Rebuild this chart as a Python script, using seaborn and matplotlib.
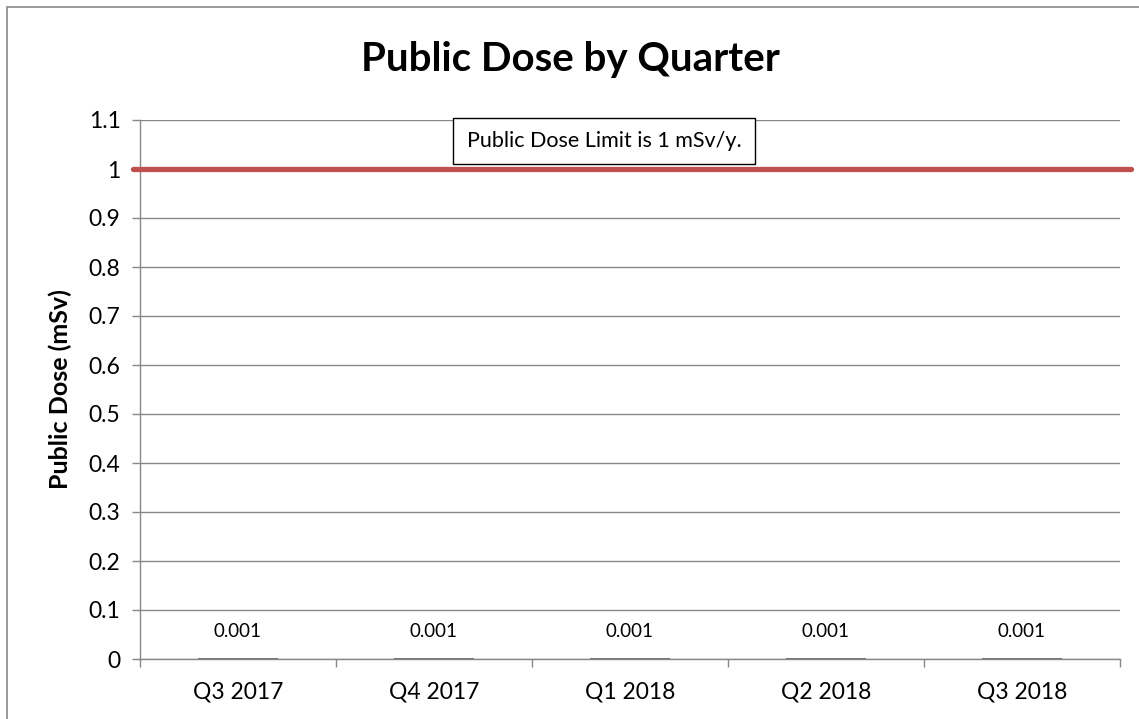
import matplotlib
matplotlib.use("Agg")
import matplotlib.pyplot as plt
import matplotlib.transforms as mtransforms
import seaborn as sns
import pandas as pd
from matplotlib.patches import Rectangle

quarters = ["Q3 2017", "Q4 2017", "Q1 2018", "Q2 2018", "Q3 2018"]
dose = [0.001, 0.001, 0.001, 0.001, 0.001]
limit = 1.0
yticks = [0, 0.1, 0.2, 0.3, 0.4, 0.5, 0.6, 0.7, 0.8, 0.9, 1, 1.1]
ytick_labels = ["0", "0.1", "0.2", "0.3", "0.4", "0.5", "0.6", "0.7", "0.8", "0.9", "1", "1.1"]

sns.set_theme(style="white")
plt.rcParams["font.family"] = ["Lato", "DejaVu Sans"]
plt.rcParams["text.color"] = "black"
plt.rcParams["axes.labelcolor"] = "black"

df = pd.DataFrame({"Quarter": quarters, "Dose": dose})

fig = plt.figure(figsize=(11.39, 7.19), dpi=100)
ax = fig.add_axes([140/1139, 1-659/719, 980/1139, 539/719])

sns.barplot(data=df, x="Quarter", y="Dose", ax=ax, color="#666666",
            width=0.41, edgecolor="#666666", linewidth=1.2, saturation=1, zorder=4)

ax.set_ylim(0, 1.1)
ax.set_xlim(-0.5, 4.5)
ax.set_yticks(yticks)
ax.set_yticklabels(ytick_labels, fontsize=16.5, color="black")
ax.yaxis.grid(True, color="#878787", linewidth=1)
ax.set_axisbelow(True)

ax.set_xticks(range(len(quarters)))
ax.set_xticklabels(quarters, fontsize=16.5, color="black")
ax.tick_params(axis="x", which="major", length=0, pad=16)
ax.set_xticks([i - 0.5 for i in range(len(quarters) + 1)], minor=True)
ax.tick_params(axis="x", which="minor", length=6, color="#878787", width=1, bottom=True)
ax.tick_params(axis="y", which="major", length=6, color="#878787", width=1, left=True, pad=8)

for s in ["top", "right"]:
    ax.spines[s].set_visible(False)
for s in ["left", "bottom"]:
    ax.spines[s].set_color("#878787")
    ax.spines[s].set_linewidth(1)

ax.set_xlabel("")
ax.set_ylabel("Public Dose (mSv)", fontsize=18, fontweight="bold", labelpad=12, color="black")

for c in ax.containers:
    ax.bar_label(c, labels=[f"{v:g}" for v in dose], padding=13, fontsize=13.5, color="black")

ax.axhline(limit, xmin=-0.007, xmax=1.0115, color="#C0504D", linewidth=3.8, clip_on=False, zorder=5)

trans = mtransforms.blended_transform_factory(ax.transAxes, ax.transData)
ax.text(0.4735, 1.057, "Public Dose Limit is 1 mSv/y.", transform=trans,
        ha="center", va="center", fontsize=15.5, zorder=6, color="black",
        bbox=dict(boxstyle="square,pad=0.62", facecolor="white", edgecolor="black", linewidth=1))

fig.text(570/1139, 1-60/719, "Public Dose by Quarter", ha="center", va="center",
         fontsize=29, fontweight="bold", color="black")

fig.patches.append(Rectangle((7/1139, -0.05), 1.2, 1 - 7/719 + 0.05, transform=fig.transFigure,
                             fill=False, edgecolor="#878787", linewidth=1.2))

fig.savefig("out.png", dpi=100)
